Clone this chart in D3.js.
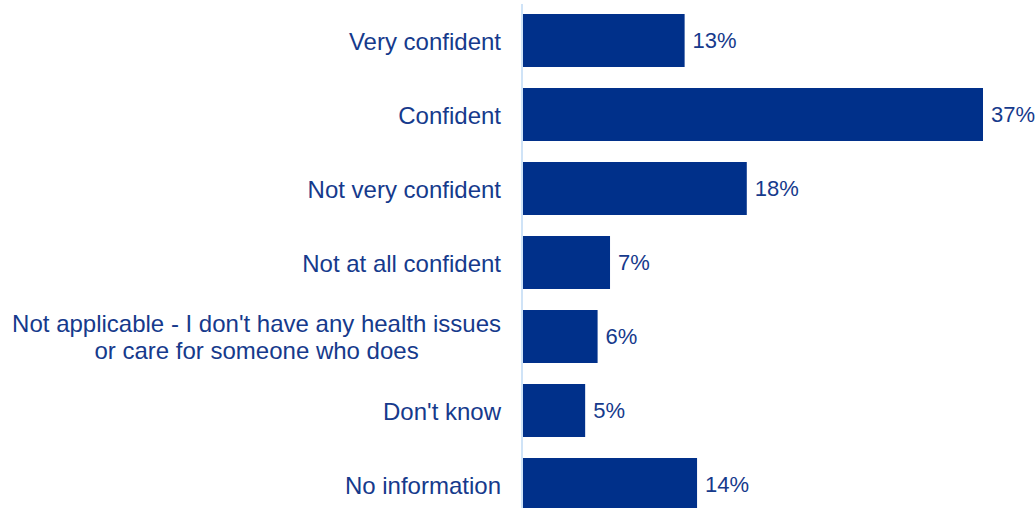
<!DOCTYPE html>
<html>
<head>
<meta charset="utf-8">
<script src="https://cdn.jsdelivr.net/npm/d3@7"></script>
<style>
  html, body { margin: 0; padding: 0; background: #ffffff; }
  svg { display: block; }
</style>
</head>
<body>
<svg id="chart" width="1036" height="508"></svg>
<script>
// Survey responses: confidence level, share of respondents (%)
const categories = [
  ["Very confident"],
  ["Confident"],
  ["Not very confident"],
  ["Not at all confident"],
  ["Not applicable - I don't have any health issues", "or care for someone who does"],
  ["Don't know"],
  ["No information"]
];
const values = [13, 37, 18, 7, 6, 5, 14];
const valueLabels = ["13%", "37%", "18%", "7%", "6%", "5%", "14%"];

const barColor = "#00308a";
const textColor = "#163a8c";
const axisColor = "#cfe3f7";
const font = "'Liberation Sans', Arial, sans-serif";

const svg = d3.select("#chart");
const x0 = 523;
const labelRight = 501;

const x = d3.scaleLinear().domain([0, 37]).range([x0, 983]);
const y = d3.scaleBand()
  .domain(d3.range(categories.length))
  .range([3.5, 521.5])
  .paddingInner(0.284)
  .paddingOuter(0.142);

// bars
svg.append("g").selectAll("rect")
  .data(values)
  .join("rect")
  .attr("x", x(0))
  .attr("y", (d, i) => y(i))
  .attr("width", d => x(d) - x(0))
  .attr("height", y.bandwidth())
  .attr("fill", barColor);

// category axis line
svg.append("line")
  .attr("x1", x0 - 1).attr("x2", x0 - 1)
  .attr("y1", 4).attr("y2", 508)
  .attr("stroke", axisColor)
  .attr("stroke-width", 2);

// category labels (multi-line labels are centred under their first line)
const cat = svg.append("g")
  .attr("font-family", font)
  .attr("font-size", 24)
  .attr("fill", textColor);

categories.forEach((lines, i) => {
  const cy = y(i) + y.bandwidth() / 2;
  const lh = 27;
  const t = cat.append("text").attr("dominant-baseline", "central");
  lines.forEach((ln, j) => {
    t.append("tspan")
      .attr("x", labelRight)
      .attr("y", cy + (j - (lines.length - 1) / 2) * lh)
      .text(ln);
  });
  if (lines.length > 1) {
    const w = t.select("tspan").node().getComputedTextLength();
    t.attr("text-anchor", "middle");
    t.selectAll("tspan").attr("x", labelRight - w / 2);
  } else {
    t.attr("text-anchor", "end");
  }
});

// value labels
svg.append("g")
  .attr("font-family", font)
  .attr("font-size", 22)
  .attr("fill", textColor)
  .selectAll("text")
  .data(values)
  .join("text")
  .attr("x", d => x(d) + 8)
  .attr("y", (d, i) => y(i) + y.bandwidth() / 2)
  .attr("dominant-baseline", "central")
  .text((d, i) => valueLabels[i]);
</script>
</body>
</html>
